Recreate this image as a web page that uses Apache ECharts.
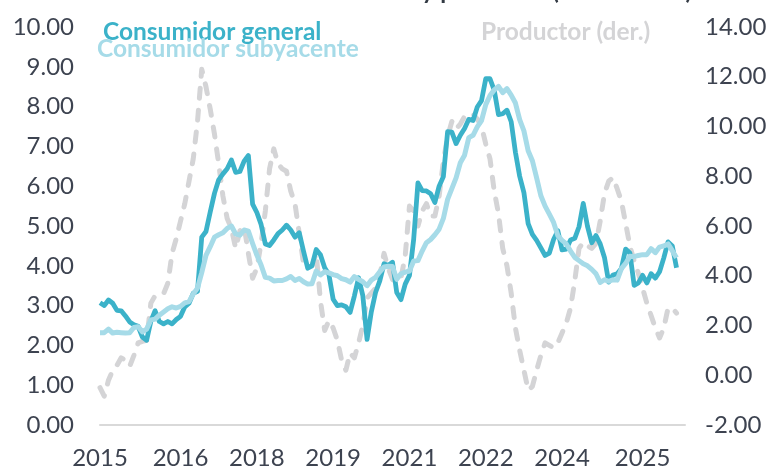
<!DOCTYPE html>
<html>
<head>
<meta charset="utf-8">
<script src="https://cdn.jsdelivr.net/npm/echarts@6/dist/echarts.min.js"></script>
<style>
html,body{margin:0;padding:0;background:#fff;}
#c{width:777px;height:470px;}
</style>
</head>
<body>
<div id="c"></div>
<script>
// Monthly categories: Jan 2015 .. Jul 2026
var startYear = 2015;
var monthCount = 139;
var categories = [];
for (var i = 0; i < monthCount; i++) {
  var y = startYear + Math.floor(i / 12);
  var m = (i % 12) + 1;
  categories.push(y + '-' + (m < 10 ? '0' + m : '' + m));
}
// months where the year tick labels sit
var tickMonths = ['2015-01','2016-08','2018-02','2019-08','2021-02','2022-08','2024-02','2025-09'];

var seriesNames = ['Consumidor general', 'Consumidor subyacente', 'Productor (der.)'];

// Consumidor general (% anual), left axis
var general = [
  3.07,3.00,3.14,3.06,2.88,2.87,2.74,2.59,2.52,2.48,2.21,2.13,
  2.61,2.87,2.60,2.54,2.60,2.54,2.65,2.73,2.97,3.06,3.31,3.36,
  4.72,4.86,5.35,5.82,6.16,6.31,6.44,6.66,6.35,6.37,6.63,6.77,
  5.55,5.34,5.04,4.55,4.51,4.65,4.81,4.90,5.02,4.90,4.72,4.83,
  4.37,3.94,4.00,4.41,4.28,3.95,3.78,3.16,3.00,3.02,2.97,2.83,
  3.24,3.70,3.25,2.15,2.84,3.33,3.62,4.05,4.01,4.09,3.33,3.15,
  3.54,3.76,4.67,6.08,5.89,5.88,5.81,5.59,6.00,6.24,7.37,7.36,
  7.07,7.28,7.45,7.68,7.65,7.99,8.15,8.70,8.70,8.41,7.80,7.82,
  7.91,7.62,6.85,6.25,5.84,5.06,4.79,4.64,4.45,4.26,4.32,4.66,
  4.88,4.40,4.42,4.65,4.69,4.98,5.57,4.99,4.58,4.76,4.55,4.21,
  3.59,3.77,3.80,3.93,4.42,4.32,3.51,3.57,3.76,3.57,3.80,3.69,
  3.85,4.20,4.60,4.50,3.95
];

// Consumidor subyacente (% anual), left axis
var core = [
  2.32,2.32,2.41,2.31,2.33,2.32,2.31,2.32,2.45,2.47,2.34,2.41,
  2.64,2.66,2.76,2.84,2.92,2.97,2.94,2.98,3.07,3.10,3.29,3.44,
  3.83,4.26,4.48,4.72,4.78,4.83,4.94,5.00,4.80,4.77,4.90,4.87,
  4.56,4.27,4.02,3.71,3.69,3.62,3.63,3.63,3.67,3.73,3.63,3.68,
  3.60,3.54,3.55,3.87,3.77,3.85,3.82,3.78,3.75,3.68,3.65,3.59,
  3.73,3.66,3.60,3.50,3.64,3.71,3.85,3.97,3.99,3.98,3.66,3.80,
  3.84,3.87,4.12,4.13,4.37,4.58,4.66,4.78,4.92,5.19,5.67,5.94,
  6.21,6.59,6.78,7.22,7.28,7.49,7.65,8.05,8.28,8.42,8.51,8.35,
  8.45,8.29,8.09,7.67,7.39,6.89,6.64,6.21,5.76,5.50,5.30,5.09,
  4.76,4.64,4.55,4.37,4.21,4.13,4.05,4.00,3.91,3.80,3.58,3.65,
  3.61,3.65,3.64,3.93,4.06,4.24,4.23,4.26,4.28,4.28,4.43,4.33,
  4.47,4.50,4.55,4.38,4.20
];

// Productor (% anual), right axis
var producer = [
  -0.50,-0.84,-0.20,0.20,0.40,0.70,0.60,0.36,0.80,1.30,1.36,1.40,
  2.90,3.20,3.25,3.28,3.70,4.90,5.50,6.20,6.90,7.80,8.70,10.20,
  12.30,11.60,10.70,9.70,8.50,7.20,6.30,5.90,5.10,5.80,6.00,4.90,
  3.90,4.30,5.30,6.60,8.30,9.10,8.50,8.30,8.20,7.40,6.90,5.70,
  4.50,4.40,4.40,4.90,3.00,1.80,2.20,1.90,1.40,0.60,0.20,0.90,
  0.70,1.30,2.00,3.10,3.30,3.50,4.00,4.90,4.30,3.85,3.75,3.90,
  4.80,6.80,6.60,6.00,6.60,6.90,6.40,6.40,7.20,8.60,9.60,10.20,
  9.90,10.10,10.40,10.50,10.50,10.30,10.00,9.30,8.70,7.40,6.50,5.10,
  4.40,3.30,1.90,1.00,0.20,-0.60,-0.45,0.20,0.80,1.30,1.20,1.10,
  1.30,1.70,2.10,2.70,3.80,5.10,5.35,5.20,5.10,5.30,6.20,7.30,
  7.80,7.95,7.50,7.00,6.10,5.20,4.60,4.10,3.50,2.90,2.40,1.90,
  1.50,1.90,2.70,2.70,2.50
];

var leftTicks = {min: 0, max: 10, interval: 1};
var rightTicks = {min: -2, max: 14, interval: 2};

var colGeneral = '#3bb2c9';
var colCore = '#a6dbe8';
var colProducer = '#d4d4d6';
var labelColor = '#3d4350';
var fontFam = 'Lato, "Open Sans", sans-serif';

var chart = echarts.init(document.getElementById('c'), null, {renderer: 'canvas'});

function legendAt(name, color, left, top) {
  return {
    show: true,
    left: left,
    top: top,
    padding: 0,
    icon: 'none',
    itemWidth: 0,
    itemHeight: 10,
    itemGap: 0,
    selectedMode: false,
    data: [{name: name, textStyle: {color: color}}],
    textStyle: {fontFamily: fontFam, fontSize: 24.5, fontWeight: 'bold', color: color, padding: 0}
  };
}

chart.setOption({
  animation: false,
  backgroundColor: '#ffffff',
  title: {
    text: 'Inflación al consumidor y productor (var. % anual)',
    right: 85,
    top: -21,
    padding: 0,
    textStyle: {fontFamily: fontFam, fontSize: 24, fontWeight: 'bold', color: '#333a44'}
  },
  legend: [
    legendAt(seriesNames[0], colGeneral, 98, 20),
    legendAt(seriesNames[1], colCore, 92, 37),
    legendAt(seriesNames[2], colProducer, 476, 20)
  ],
  grid: {left: 100, right: 92, top: 27, bottom: 43, containLabel: false},
  xAxis: {
    type: 'category',
    data: categories,
    boundaryGap: false,
    axisLine: {onZero: false, lineStyle: {color: '#d9d9d9', width: 2}},
    axisTick: {show: false},
    splitLine: {show: false},
    axisLabel: {
      interval: function (idx, val) { return tickMonths.indexOf(val) >= 0; },
      formatter: function (val) { return val.slice(0, 4); },
      color: labelColor,
      fontFamily: fontFam,
      fontSize: 24,
      margin: 21
    }
  },
  yAxis: [
    {
      type: 'value',
      min: leftTicks.min, max: leftTicks.max, interval: leftTicks.interval,
      axisLine: {show: false}, axisTick: {show: false}, splitLine: {show: false},
      axisLabel: {
        formatter: function (v) { return v.toFixed(2); },
        color: labelColor, fontFamily: fontFam, fontSize: 24, margin: 26
      }
    },
    {
      type: 'value',
      position: 'right',
      min: rightTicks.min, max: rightTicks.max, interval: rightTicks.interval,
      axisLine: {show: false}, axisTick: {show: false}, splitLine: {show: false},
      axisLabel: {
        formatter: function (v) { return v.toFixed(2); },
        color: labelColor, fontFamily: fontFam, fontSize: 24, margin: 20
      }
    }
  ],
  series: [
    {
      name: seriesNames[2],
      type: 'line',
      yAxisIndex: 1,
      data: producer,
      symbol: 'none',
      lineStyle: {color: colProducer, width: 5, type: [10, 12], cap: 'round', join: 'round'},
      itemStyle: {color: colProducer}
    },
    {
      name: seriesNames[0],
      type: 'line',
      yAxisIndex: 0,
      data: general,
      symbol: 'none',
      lineStyle: {color: colGeneral, width: 4.8, join: 'round'},
      itemStyle: {color: colGeneral}
    },
    {
      name: seriesNames[1],
      type: 'line',
      yAxisIndex: 0,
      data: core,
      symbol: 'none',
      lineStyle: {color: colCore, width: 5, join: 'round'},
      itemStyle: {color: colCore}
    }
  ]
});
</script>
</body>
</html>
